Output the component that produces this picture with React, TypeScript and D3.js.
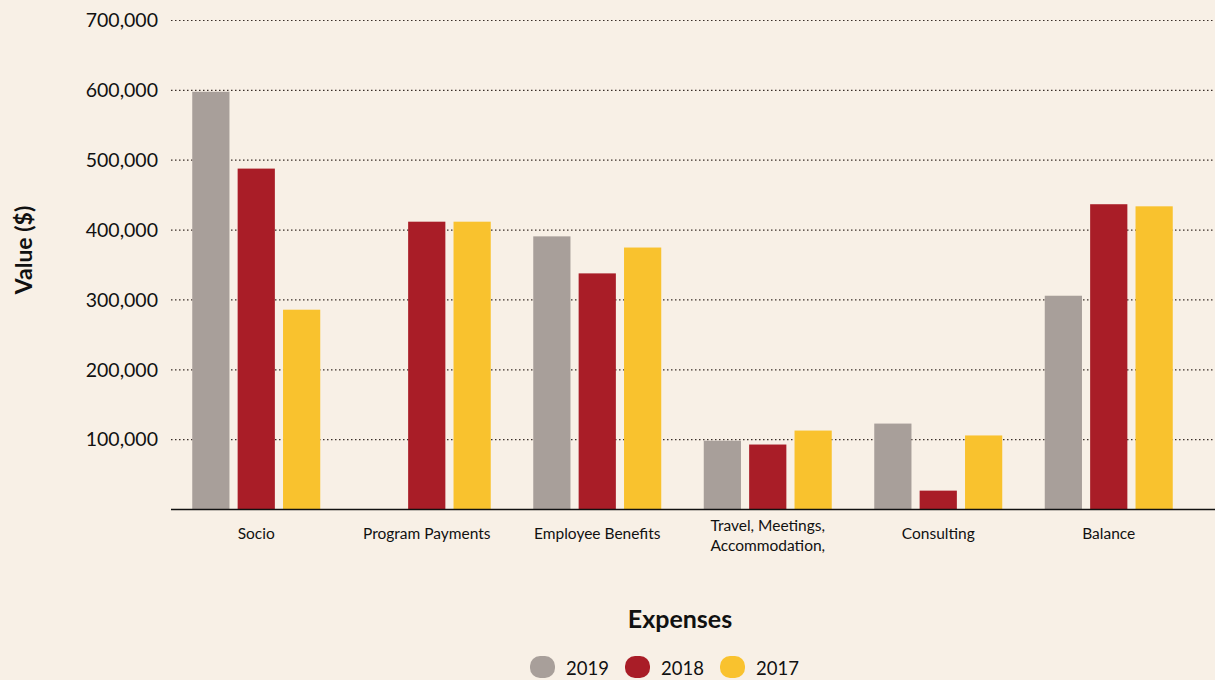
import React from "react";
import * as d3 from "d3";

const categories = ["Socio", "Program Payments", "Employee Benefits", "Travel, Meetings, Accommodation,", "Consulting", "Balance"];
const categoryLines = [["Socio"], ["Program Payments"], ["Employee Benefits"], ["Travel, Meetings,", "Accommodation,"], ["Consulting"], ["Balance"]];
const years = ["2019", "2018", "2017"];
const values2019: (number | null)[] = [598000, null, 391000, 98500, 123000, 306000];
const values2018: (number | null)[] = [488000, 412000, 338000, 93000, 27000, 437000];
const values2017: (number | null)[] = [286000, 412000, 375000, 113000, 106000, 434000];
const yTicks = [100000, 200000, 300000, 400000, 500000, 600000, 700000];
const colors = ["#A89F9A", "#A91D27", "#F9C22E"];

const W = 1215;
const H = 680;
const FONT = "Lato, 'Noto Sans', sans-serif";

export default function App() {
  const series = [values2019, values2018, values2017];
  const y = d3.scaleLinear().domain([0, 700000]).range([509.5, 20.5]);
  const x0 = d3.scaleBand<string>().domain(categories).range([171, 1194]).padding(0);
  const x1 = d3.scaleBand<string>().domain(years).range([-64, 64]).paddingInner(0.18);
  const fmt = d3.format(",");

  return (
    <svg width={W} height={H} style={{ position: "absolute", left: 0, top: 0, background: "#F8F0E6" }}>
      <rect x={0} y={0} width={W} height={H} fill="#F8F0E6" />
      {yTicks.map((t) => (
        <g key={t}>
          <line x1={171} x2={W} y1={y(t)} y2={y(t)} stroke="#3a2e28" strokeWidth={1.2} strokeDasharray="1.5 2.5" />
          <text x={158} y={y(t)} dy="0.35em" textAnchor="end" fontFamily={FONT} fontSize={19.5} fill="#111">
            {fmt(t)}
          </text>
        </g>
      ))}
      {categories.map((c, i) => {
        const lines = categoryLines[i];
        const y0 = lines.length > 1 ? 531 : 539;
        return (
          <g key={c} transform={`translate(${(x0(c) as number) + x0.bandwidth() / 2},0)`}>
            {series.map((s, j) => {
              const v = s[i];
              if (v == null) return null;
              return (
                <rect
                  key={j}
                  x={x1(years[j]) as number}
                  y={y(v)}
                  width={x1.bandwidth()}
                  height={y(0) - y(v)}
                  fill={colors[j]}
                />
              );
            })}
            <text textAnchor="middle" fontFamily={FONT} fontSize={15.5} fill="#111">
              {lines.map((ln, k) => (
                <tspan key={k} x={0} y={y0 + k * 20}>
                  {ln}
                </tspan>
              ))}
            </text>
          </g>
        );
      })}
      <line x1={171} x2={W} y1={y(0)} y2={y(0)} stroke="#111" strokeWidth={1.5} />
      <text
        transform={`translate(32,250) rotate(-90)`}
        textAnchor="middle"
        fontFamily={FONT}
        fontWeight={700}
        fontSize={23}
        fill="#111"
      >
        Value ($)
      </text>
      <text x={680} y={628} textAnchor="middle" fontFamily={FONT} fontWeight={700} fontSize={25} fill="#111">
        Expenses
      </text>
      {years.map((yr, j) => {
        const lx = 530 + j * 95;
        return (
          <g key={yr}>
            <rect x={lx} y={656} width={25} height={22} rx={10} ry={10} fill={colors[j]} />
            <text x={lx + 36} y={675} fontFamily={FONT} fontSize={18.5} fill="#111">
              {yr}
            </text>
          </g>
        );
      })}
    </svg>
  );
}
